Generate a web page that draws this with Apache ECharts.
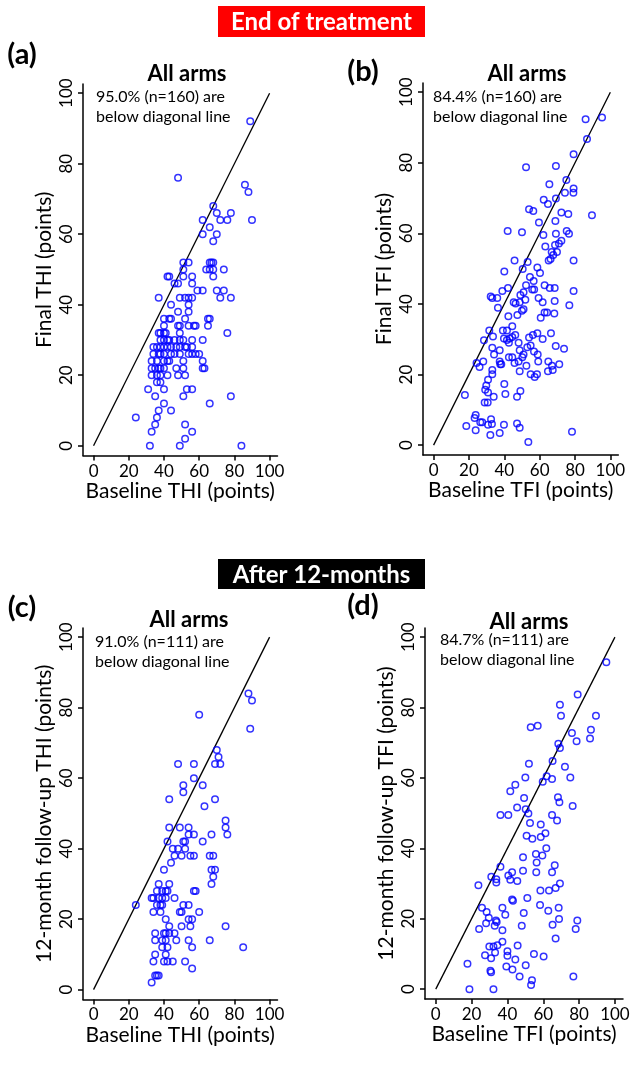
<!DOCTYPE html>
<html>
<head>
<meta charset="utf-8">
<script src="https://cdn.jsdelivr.net/npm/echarts@6/dist/echarts.min.js"></script>
<style>
html,body{margin:0;padding:0;background:#fff;}
#chart{width:640px;height:1067px;}
</style>
</head>
<body>
<div id="chart"></div>
<script>
// ---------- DATA ----------
var tickValues = [0, 20, 40, 60, 80, 100];
var diagonal = [0, 100];

var headers = ["End of treatment", "After 12-months"];
var panelLetters = ["(a)", "(b)", "(c)", "(d)"];
var panelTitles = ["All arms", "All arms", "All arms", "All arms"];
var notes = [
  ["95.0% (n=160) are", "below diagonal line"],
  ["84.4% (n=160) are", "below diagonal line"],
  ["91.0% (n=111) are", "below diagonal line"],
  ["84.7% (n=111) are", "below diagonal line"]
];
var xTitles = ["Baseline THI (points)", "Baseline TFI (points)", "Baseline THI (points)", "Baseline TFI (points)"];
var yTitles = ["Final THI (points)", "Final TFI (points)", "12-month follow-up THI (points)", "12-month follow-up TFI (points)"];

// (a) End of treatment, THI: baseline (x) vs final (y)
var aX = [89,48,86,88,68,70,78,62,72,76,90,66,62,70,68,
  51,54,66,67,68, 51,64,66,68,74, 42,43,51,56,68, 46,48,56, 59,62,70,74,
  37,49,52,54,56,72,78, 44,54, 48,54, 40,43,44,52,65,66, 40,48,49,54,57,58,65,
  37,38,40,41,49,76, 38,40,42,43,46,49,51,56,62, 34,36,38,40,42,44,47,49,52,53,56,
  34,37,38,40,44,46,49,54,56,58,60, 33,36,40,42,43,51,62, 33,35,37,38,40,47,51,62,63,
  33,36,38,42,48,52, 36,38, 31,40,53,56, 35,51,78, 40,66, 37,44, 24,36, 35,52, 33,56, 52, 32,49,84];
var aY = [92,76,74,72,68,66,66,64,64,64,64,62,60,60,58,
  52,52,52,52,52, 50,50,50,50,50, 48,48,48,48,48, 46,46,46, 44,44,44,44,
  42,42,42,42,42,42,42, 40,40, 38,38, 36,36,36,36,36,36, 34,34,34,34,34,34,34,
  32,32,32,32,32,32, 30,30,30,30,30,30,30,30,30, 28,28,28,28,28,28,28,28,28,28,28,
  26,26,26,26,26,26,26,26,26,26,26, 24,24,24,24,24,24,24, 22,22,22,22,22,22,22,22,22,
  20,20,20,20,20,20, 18,18, 16,16,16,16, 14,14,14, 12,12, 10,10, 8,8, 6,6, 4,4, 2, 0,0,0];

// (b) End of treatment, TFI
var bX = [95.3,86.0,86.8,79.2,52.3,69.2,75.1,65.5,79.2,79.1,74.3,69.2,62.3,64.7,54.0,56.4,72.3,76.2,89.6,59.6,
  68.9,41.9,50.0,62.1,69.2,75.3,76.6,72.3,70.9,68.7,63.2,66.8,69.8,67.7,66.2,65.1,79.2,45.8,53.2,50.4,
  58.7,60.2,40.0,54.5,
  52.3,56.6,56.9,55.8,62.8,65.7,68.5,42.1,38.9,79.2,32.3,33.2,36.0,49.1,50.9,45.3,46.4,51.9,48.7,59.4,
  61.7,68.5,76.8,36.4,50.9,50.0,47.4,42.3,62.8,64.2,68.3,60.6,44.5,39.2,41.5,31.5,28.5,33.6,39.8,43.0,
  44.5,46.2,41.5,42.6,48.1,54.0,56.2,58.7,61.7,66.4,33.2,37.4,34.2,48.7,50.9,50.2,53.0,54.9,56.8,58.9,
  69.1,73.8,24.3,26.0,28.1,37.4,37.7,38.3,33.2,33.2,42.6,44.5,45.8,48.1,48.7,52.5,59.2,64.9,67.0,67.4,
  64.7,71.1,54.9,57.2,58.5,30.8,29.8,29.2,30.8,34.0,40.0,40.6,49.1,47.2,17.7,28.9,30.6,23.8,23.2,18.5,
  26.4,27.5,23.8,32.1,37.4,30.8,32.5,33.0,39.8,47.2,48.7,78.3,53.6];
var bY = [92.8,92.3,86.7,82.4,78.7,79.1,75.1,73.9,72.7,71.5,71.5,69.9,69.5,68.3,66.8,66.3,65.9,65.5,65.1,63.1,
  63.5,60.7,60.3,59.5,59.9,60.7,59.9,57.9,57.1,56.7,56.3,54.7,54.7,53.9,52.7,52.3,52.3,52.3,51.9,49.9,
  50.3,48.8,49.2,47.6,
  45.3,46.5,44.1,44.1,45.3,44.5,44.5,44.5,43.7,43.7,42.1,41.7,41.7,42.5,43.3,40.5,40.1,41.2,40.5,41.7,
  40.5,40.8,39.6,38.9,38.5,38.1,36.9,36.5,37.6,37.6,37.3,36.1,33.7,32.5,32.5,32.5,29.7,30.8,30.2,30.2,
  30.6,31.2,29.8,29.0,29.0,30.5,31.2,31.7,30.1,31.7,27.6,26.9,25.7,26.9,25.7,24.9,27.7,28.2,26.5,25.7,
  28.1,27.3,23.3,22.1,23.7,23.7,22.9,22.9,21.3,20.1,24.9,24.9,23.3,23.7,20.9,22.5,23.7,23.7,22.5,21.3,
  20.9,22.9,20.1,19.3,20.1,18.5,16.9,15.7,14.9,13.7,17.3,14.5,15.3,13.7,14.2,12.1,12.1,8.5,7.7,5.4,
  6.5,6.5,4.2,2.9,3.4,5.8,7.3,6.0,5.8,6.1,4.9,3.8,0.9];

// (c) After 12 months, THI: baseline (x) vs 12-month follow-up (y)
var cX = [88,90,60,89,70,71,48,57,69,72,57,51,62,51,43,69,63,75,43,49,54,75,54,57,67,76,42,51,52,62,
  45,48,52,46,50,55,57,66,68,44,40,67,69,68,37,43,67,36,39,41,42,57,58,33,34,37,39,41,46,
  24,36,38,39,51,54,34,38,49,50,60,41,54,56,43,50,55,75,35,40,41,43,46,35,39,41,47,54,66,
  39,42,56,85,35,41,34,40,42,45,52,56,35,36,37,33];
var cY = [84,82,78,74,68,66,64,64,64,64,60,58,58,56,54,54,52,48,46,46,46,46,44,44,44,44,42,42,42,42,
  40,40,40,38,38,38,38,38,38,36,34,34,34,32,30,30,30,28,28,28,28,28,28,26,26,26,26,26,26,
  24,24,24,24,24,24,22,22,22,22,22,20,20,20,18,18,18,18,16,16,16,16,16,14,14,14,14,14,14,
  12,12,12,12,10,10,8,8,8,8,8,6,4,4,4,2];

// (d) After 12 months, TFI
var dX = [95.2,79.2,69.3,89.4,69.9,53.0,56.9,86.6,86.1,76.0,78.6,68.4,69.3,65.2,52.0,72.1,61.9,59.7,64.9,50.0,
  75.1,44.4,41.6,49.3,68.2,
  69.0,76.4,36.1,40.5,45.4,50.2,51.7,52.6,64.9,67.7,58.6,61.2,58.6,50.7,53.9,61.7,55.9,59.5,56.3,48.7,
  66.4,64.9,36.1,48.7,56.1,31.0,40.5,42.6,33.8,33.8,41.6,45.5,23.8,69.3,66.9,58.4,63.2,42.6,43.1,51.1,
  58.2,25.8,37.2,28.4,38.8,49.1,62.8,68.6,29.6,33.6,34.0,28.1,32.9,68.8,65.2,79.0,78.1,24.2,37.2,48.0,
  66.9,29.9,32.2,34.4,37.2,45.7,40.0,40.0,27.5,30.9,33.1,54.8,60.2,44.4,50.2,17.7,39.4,42.8,30.5,30.9,
  46.8,53.7,53.2,76.8,18.8,32.2];
var dY = [92.9,83.7,80.8,77.7,77.7,74.4,74.8,73.7,71.2,72.8,70.4,69.7,68.5,64.8,64.0,63.2,60.5,58.9,59.7,60.1,
  60.1,58.1,56.2,54.3,54.5,
  53.1,52.0,49.5,49.5,51.6,51.1,49.9,47.2,49.5,47.9,46.8,44.3,43.2,43.6,42.7,40.0,38.4,38.0,36.0,37.5,
  35.2,33.2,34.8,33.6,33.2,31.9,32.3,33.2,31.2,30.3,31.1,30.7,29.5,30.0,28.7,28.0,28.0,25.5,25.1,25.9,
  23.9,23.1,23.1,21.9,21.1,21.6,22.3,23.1,20.3,19.5,19.1,18.7,18.0,19.9,18.3,19.5,17.1,17.1,16.7,18.0,
  14.4,12.1,12.1,12.5,13.5,12.4,10.8,9.5,9.6,8.8,10.4,10.0,9.3,8.4,6.8,7.2,6.4,5.6,5.2,4.8,
  3.6,2.5,1.2,3.6,0,0];

// ---------- LAYOUT ----------
var FONT = "Lato, 'Liberation Sans', sans-serif";
var panels = [
  {xs: aX, ys: aY, left: 83, top: 84, width: 194.5, height: 371.6},
  {xs: bX, ys: bY, left: 423, top: 83, width: 195.3, height: 372},
  {xs: cX, ys: cY, left: 83, top: 628, width: 194.5, height: 371.5},
  {xs: dX, ys: dY, left: 425, top: 628, width: 198, height: 371}
];
var XMIN = -6, XMAX = 104.5, YMIN = -2.8, YMAX = 102.6;

function pairs(xs, ys) {
  var out = [];
  for (var i = 0; i < xs.length; i++) out.push([xs[i], ys[i]]);
  return out;
}

var grids = [], xAxes = [], yAxes = [], series = [];
panels.forEach(function (p, i) {
  grids.push({left: p.left, top: p.top, width: p.width, height: p.height, containLabel: false});
  xAxes.push({
    type: 'value', gridIndex: i, min: XMIN, max: XMAX,
    name: xTitles[i], nameLocation: 'middle', nameGap: 23,
    nameTextStyle: {fontFamily: FONT, fontSize: 21, color: '#000'},
    axisLine: {show: true, onZero: false, lineStyle: {color: '#000', width: 1.5}},
    axisTick: {show: true, length: 5, customValues: tickValues, lineStyle: {color: '#000', width: 1.5}},
    axisLabel: {customValues: tickValues, fontFamily: FONT, fontSize: 17, color: '#000', margin: 7},
    splitLine: {show: false}
  });
  yAxes.push({
    type: 'value', gridIndex: i, min: YMIN, max: YMAX,
    name: yTitles[i], nameLocation: 'middle', nameGap: 28,
    nameTextStyle: {fontFamily: FONT, fontSize: 21, color: '#000'},
    axisLine: {show: true, onZero: false, lineStyle: {color: '#000', width: 1.5}},
    axisTick: {show: true, length: 5, customValues: tickValues, lineStyle: {color: '#000', width: 1.5}},
    axisLabel: {customValues: tickValues, rotate: 90, fontFamily: FONT, fontSize: 17, color: '#000', margin: 8},
    splitLine: {show: false}
  });
  series.push({
    type: 'line', xAxisIndex: i, yAxisIndex: i, silent: true, symbol: 'none',
    data: [[diagonal[0], diagonal[0]], [diagonal[1], diagonal[1]]],
    lineStyle: {color: '#000', width: 1.3}, z: 1
  });
  series.push({
    type: 'scatter', xAxisIndex: i, yAxisIndex: i, symbol: 'circle', symbolSize: 6.5,
    data: pairs(p.xs, p.ys),
    itemStyle: {color: 'rgba(0,0,0,0)', borderColor: '#0000ff', borderWidth: 1.5}, z: 2
  });
});

// ---------- TEXT / DECOR ----------
var graphics = [];
function box(x, y, w, h, fill, label) {
  graphics.push({type: 'rect', z: 10, shape: {x: x, y: y, width: w, height: h}, style: {fill: fill}});
  graphics.push({type: 'text', z: 11, x: x + w / 2, y: y + h / 2 + 1,
    style: {text: label, fill: '#fff', font: 'bold 24px ' + FONT, align: 'center', verticalAlign: 'middle'}});
}
function txt(x, y, s, font, align) {
  graphics.push({type: 'text', z: 12, x: x, y: y,
    style: {text: s, fill: '#000', font: font, align: align || 'left', verticalAlign: 'middle'}});
}
box(218, 6, 207, 31, '#ff0000', headers[0]);
box(218, 559, 207, 30, '#000000', headers[1]);

var letterPos = [[22, 55], [363, 72], [22, 608], [363, 606]];
var titlePos = [[187, 74], [527, 74], [189, 620], [529, 622]];
var notePos = [[96, 97], [433, 97], [95, 642], [440, 640]];
for (var k = 0; k < 4; k++) {
  txt(letterPos[k][0], letterPos[k][1], panelLetters[k], 'bold 29px ' + FONT, 'center');
  txt(titlePos[k][0], titlePos[k][1], panelTitles[k], 'bold 22px ' + FONT, 'center');
  txt(notePos[k][0], notePos[k][1], notes[k][0], '16px ' + FONT, 'left');
  txt(notePos[k][0], notePos[k][1] + 20, notes[k][1], '16px ' + FONT, 'left');
}

var chart = echarts.init(document.getElementById('chart'), null, {renderer: 'canvas'});
chart.setOption({
  backgroundColor: '#ffffff',
  animation: false,
  grid: grids,
  xAxis: xAxes,
  yAxis: yAxes,
  series: series,
  graphic: graphics
});
</script>
</body>
</html>
